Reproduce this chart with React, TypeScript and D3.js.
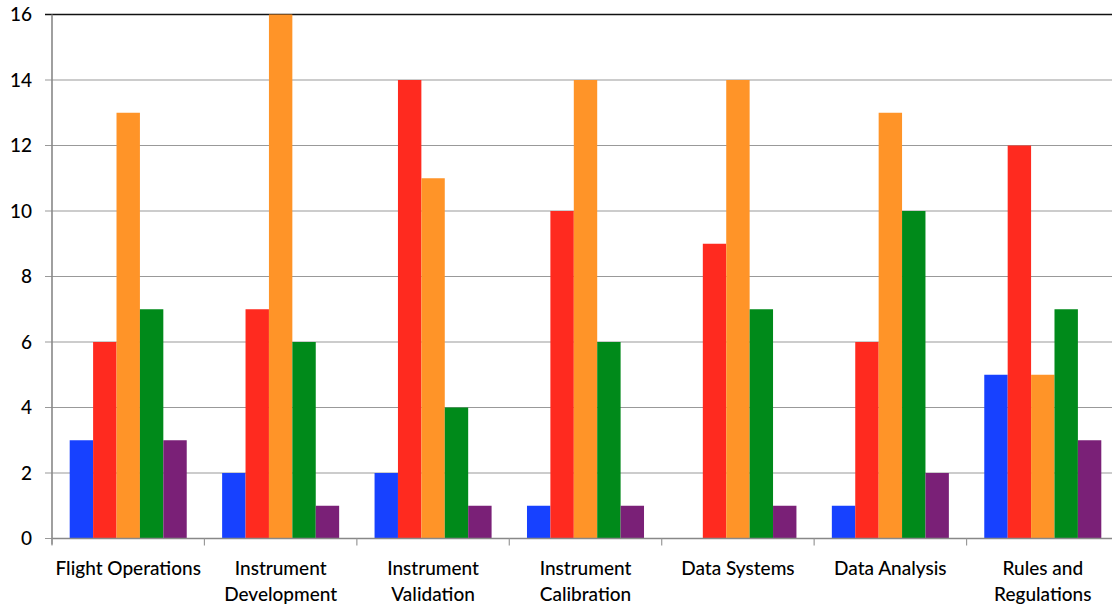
import React from "react";
import * as d3 from "d3";

const categories = [
  ["Flight Operations"],
  ["Instrument", "Development"],
  ["Instrument", "Validation"],
  ["Instrument", "Calibration"],
  ["Data Systems"],
  ["Data Analysis"],
  ["Rules and", "Regulations"],
];
const seriesA = [3, 2, 2, 1, 0, 1, 5];
const seriesB = [6, 7, 14, 10, 9, 6, 12];
const seriesC = [13, 16, 11, 14, 14, 13, 5];
const seriesD = [7, 6, 4, 6, 7, 10, 7];
const seriesE = [3, 1, 1, 1, 1, 2, 3];
const yTicks = [0, 2, 4, 6, 8, 10, 12, 14, 16];

const seriesList = [seriesA, seriesB, seriesC, seriesD, seriesE];
const colors = ["#1741ff", "#ff2a1f", "#ff9428", "#008a1a", "#7a2077"];

export default function App() {
  const W = 1112, H = 606;
  const left = 52, right = 1119, top = 14.5, bottom = 538.5;
  const x = d3.scaleBand<number>().domain(d3.range(categories.length)).range([left, right]).paddingInner(0).paddingOuter(0);
  const bw = x.bandwidth();
  const inner = d3.scaleBand<number>().domain(d3.range(seriesList.length)).range([17.7, bw - 17.7]).padding(0);
  const y = d3.scaleLinear().domain([0, 16]).range([bottom, top]);
  const font = "Lato, 'Open Sans', sans-serif";
  return (
    <svg width={W} height={H} style={{ position: "absolute", left: 0, top: 0, background: "#fff" }}>
      {yTicks.map((t) => (
        <g key={t}>
          <line x1={45} x2={right} y1={y(t)} y2={y(t)} stroke={t === 16 ? "#111" : "#999"} strokeWidth={t === 16 ? 1.4 : 1} />
          <text x={32} y={y(t)} dy="0.36em" textAnchor="end" fontFamily={font} fontSize={19} fontWeight={500} fill="#000">{t}</text>
        </g>
      ))}
      {seriesList.map((s, si) =>
        s.map((v, ci) =>
          v > 0 ? (
            <rect key={`${si}-${ci}`} x={(x(ci) ?? 0) + (inner(si) ?? 0)} y={y(v)} width={inner.bandwidth()} height={y(0) - y(v)} fill={colors[si]} />
          ) : null
        )
      )}
      <line x1={left} x2={left} y1={top} y2={bottom + 6} stroke="#888" strokeWidth={1.6} />
      <line x1={left} x2={right} y1={bottom} y2={bottom} stroke="#888" strokeWidth={1.4} />
      {d3.range(categories.length + 1).map((i) => (
        <line key={i} x1={left + i * bw} x2={left + i * bw} y1={bottom} y2={bottom + 7} stroke="#999" strokeWidth={1.2} />
      ))}
      {categories.map((c, ci) => (
        <text key={ci} x={(x(ci) ?? 0) + bw / 2} y={575} textAnchor="middle" fontFamily={font} fontSize={19} fontWeight={500} fill="#000">
          {c.map((line, li) => (
            <tspan key={li} x={(x(ci) ?? 0) + bw / 2} dy={li === 0 ? 0 : 26}>{line}</tspan>
          ))}
        </text>
      ))}
    </svg>
  );
}
